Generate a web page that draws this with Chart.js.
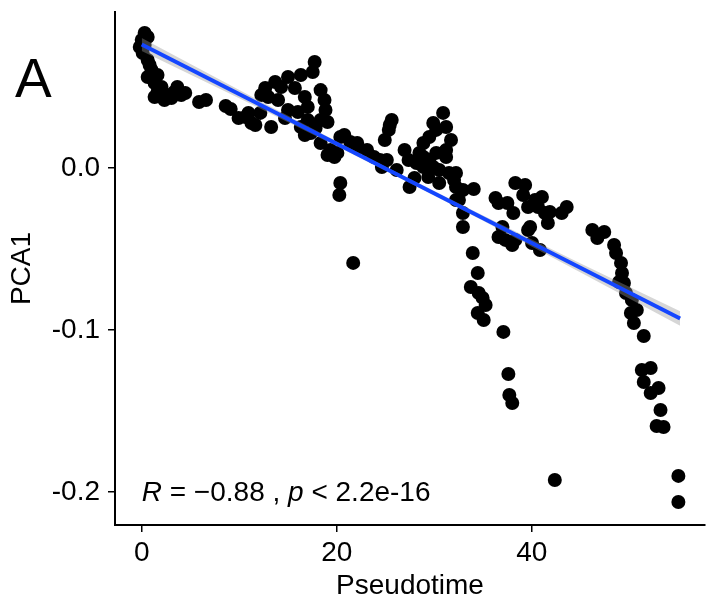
<!DOCTYPE html>
<html>
<head>
<meta charset="utf-8">
<script src="https://cdn.jsdelivr.net/npm/chart.js@4.4.1/dist/chart.umd.min.js"></script>
<style>
  html, body { margin: 0; padding: 0; background: #fff; }
  canvas { display: block; }
</style>
</head>
<body>
<canvas id="chart" width="712" height="603"></canvas>
<script>
// values
const pseudotime = [
  0.30, 0.61, 0.00, -0.20, 0.10, 0.61, 1.01, 0.61, 1.32, 1.62, 2.33, 2.63, 3.34, 4.05, 3.65, 2.03, 1.62, 0.81, 0.30, 1.32, 3.04, 4.46,
  5.88, 6.59, 8.61, 9.12, 9.93, 10.94, 11.65, 12.16, 13.27,
  17.73, 17.53, 16.31, 15.00, 13.68, 12.66, 12.97, 14.29, 15.70, 16.72, 17.02, 18.34, 18.74, 18.84, 18.34, 17.02, 16.31, 17.33,
  18.34, 19.35, 19.76, 20.36, 15.00, 14.69, 13.98, 12.26, 16.01, 17.83, 19.05, 20.77, 21.38, 22.09, 16.72, 11.25, 10.64,
  20.36, 20.26, 21.68,
  19.05, 20.06, 22.09, 23.10, 23.81, 25.63, 25.33, 24.92, 25.43, 24.62, 25.13, 24.42, 26.95, 27.36, 27.46, 26.14, 27.96,
  30.90, 31.21, 30.19, 29.48, 28.88, 28.47, 28.88, 29.48, 30.19, 31.21, 30.50, 31.51, 32.22, 32.22, 32.52, 32.93, 32.93,
  28.88, 29.89, 30.90, 32.02, 32.93, 32.22, 29.38, 30.50, 31.21, 29.89, 31.71, 28.17, 34.04,
  33.94, 34.45, 33.74, 34.55, 34.95, 35.26, 34.45, 35.06, 37.08, 37.59, 37.69, 37.99,
  36.27, 36.58, 37.49, 38.10, 38.30, 39.31, 39.11, 40.32, 41.03, 39.61, 40.63, 41.34, 41.64, 43.06, 43.57, 36.98, 37.28,
  38.30, 39.61, 40.02, 40.83, 39.82, 41.84, 37.99, 36.58, 42.35,
  46.20, 47.42, 46.71, 48.43, 48.63, 49.14, 49.24, 49.44, 49.65, 50.25, 50.76, 50.15, 50.46, 51.47, 51.27, 52.18, 51.47,
  52.18, 52.99, 53.19, 52.79, 53.50, 55.02, 55.02, 48.94
];
const pca1 = [
  0.0833, 0.0809, 0.0790, 0.0747, 0.0710, 0.0667, 0.0605, 0.0562, 0.0525, 0.0469, 0.0420, 0.0451, 0.0469, 0.0451, 0.0500, 0.0500, 0.0574, 0.0636, 0.0759, 0.0438, 0.0432, 0.0463,
  0.0407, 0.0420, 0.0383, 0.0364, 0.0309, 0.0340, 0.0265, 0.0340, 0.0253,
  0.0654, 0.0593, 0.0574, 0.0562, 0.0531, 0.0494, 0.0438, 0.0500, 0.0494, 0.0438, 0.0377, 0.0481, 0.0420, 0.0358, 0.0296, 0.0296, 0.0253, 0.0216,
  0.0154, 0.0111, 0.0068, 0.0191, 0.0358, 0.0309, 0.0420, 0.0451, 0.0346, 0.0247, 0.0284, 0.0204, 0.0160, 0.0123, 0.0204, 0.0278, 0.0315,
  -0.0093, -0.0167, -0.0586,
  0.0080, 0.0093, 0.0154, 0.0111, 0.0068, 0.0296, 0.0235, 0.0173, 0.0265, 0.0006, 0.0049, 0.0049, 0.0111, 0.0049, -0.0117, -0.0012, -0.0062,
  0.0340, 0.0253, 0.0235, 0.0191, 0.0154, 0.0093, 0.0006, 0.0049, 0.0093, 0.0111, -0.0012, -0.0031, -0.0031, -0.0117, -0.0198, -0.0278, -0.0364,
  0.0068, 0.0006, 0.0093, -0.0074, -0.0136, -0.0198, -0.0056, -0.0093, 0.0068, 0.0278, 0.0173, 0.0031, -0.0130,
  -0.0525, -0.0648, -0.0735, -0.0772, -0.0802, -0.0846, -0.0895, -0.0938, -0.1012, -0.1272, -0.1401, -0.1451,
  -0.0185, -0.0216, -0.0216, -0.0278, -0.0093, -0.0105, -0.0167, -0.0198, -0.0179, -0.0241, -0.0241, -0.0278, -0.0340, -0.0278, -0.0241, -0.0364, -0.0444,
  -0.0444, -0.0383, -0.0463, -0.0506, -0.0364, -0.0272, -0.0475, -0.0426, -0.1926,
  -0.0383, -0.0395, -0.0432, -0.0475, -0.0525, -0.0586, -0.0648, -0.0710, -0.0772, -0.0815, -0.0877, -0.0895, -0.0957, -0.1037, -0.1247, -0.1235, -0.1321,
  -0.1389, -0.1358, -0.1494, -0.1593, -0.1599, -0.1901, -0.2062, -0.0704
];

// linear fit and its confidence band
const fitX = [0, 55.2];
const fitY = [0.0762, -0.0929];
const bandX = [0, 10, 20, 27, 35, 45, 55.2];
const bandUpper = [0.0802, 0.0481, 0.0164, -0.0053, -0.0294, -0.0589, -0.0884];
const bandLower = [0.0722, 0.0431, 0.0134, -0.0077, -0.0326, -0.0645, -0.0974];

const xTicks = [0, 20, 40];
const yTicks = [-0.2, -0.1, 0.0];
const yTickLabels = ['-0.2', '-0.1', '0.0'];

const FONT = '"Liberation Sans", Arial, sans-serif';

const toXY = (xs, ys) => xs.map((x, i) => ({ x: x, y: ys[i] }));

const extraText = {
  id: 'extraText',
  afterDraw(chart) {
    const ctx = chart.ctx;
    const xs = chart.scales.x;
    const ys = chart.scales.y;
    ctx.save();
    ctx.fillStyle = '#000';
    ctx.textBaseline = 'alphabetic';
    ctx.textAlign = 'left';

    ctx.font = '55px ' + FONT;
    ctx.fillText('A', 15, 97);

    // R = -0.88 , p < 2.2e-16
    const parts = [
      ['R', true], [' = \u22120.88 , ', false], ['p', true], [' < 2.2e-16', false]
    ];
    let x = xs.getPixelForValue(0);
    const y = ys.getPixelForValue(-0.2) + 9;
    parts.forEach(([txt, italic]) => {
      ctx.font = (italic ? 'italic ' : '') + '28px ' + FONT;
      ctx.fillText(txt, x, y);
      x += ctx.measureText(txt).width;
    });
    ctx.restore();
  }
};

new Chart(document.getElementById('chart'), {
  type: 'scatter',
  data: {
    datasets: [
      {
        label: 'fit',
        type: 'line',
        data: toXY(fitX, fitY),
        borderColor: '#1446ff',
        borderWidth: 4,
        pointRadius: 0,
        fill: false,
        order: 1
      },
      {
        label: 'lower',
        type: 'line',
        data: toXY(bandX, bandLower),
        borderWidth: 0,
        borderColor: 'rgba(0,0,0,0)',
        pointRadius: 0,
        fill: false,
        order: 2
      },
      {
        label: 'upper',
        type: 'line',
        data: toXY(bandX, bandUpper),
        borderWidth: 0,
        borderColor: 'rgba(0,0,0,0)',
        backgroundColor: 'rgba(153,153,153,0.4)',
        pointRadius: 0,
        fill: '-1',
        order: 2
      },
      {
        label: 'cells',
        data: toXY(pseudotime, pca1),
        backgroundColor: '#000',
        borderWidth: 0,
        pointRadius: 7,
        order: 3
      }
    ]
  },
  options: {
    responsive: false,
    animation: false,
    devicePixelRatio: 1,
    layout: { padding: { top: 12, right: -6, left: 0, bottom: 0 } },
    plugins: {
      legend: { display: false },
      tooltip: { enabled: false }
    },
    scales: {
      x: {
        type: 'linear',
        min: -2.74,
        max: 57.75,
        afterFit(scale) {
          scale.height = 78;
          scale.paddingLeft = 0;
          scale.paddingRight = 0;
        },
        afterBuildTicks(scale) { scale.ticks = xTicks.map(v => ({ value: v })); },
        ticks: {
          color: '#000',
          font: { family: FONT, size: 28 },
          padding: 4,
          maxRotation: 0,
          callback: v => String(v)
        },
        grid: { drawOnChartArea: false, tickLength: 7, color: '#000', lineWidth: 1.5 },
        border: { display: true, color: '#000', width: 2 },
        title: {
          display: true,
          text: 'Pseudotime',
          color: '#000',
          font: { family: FONT, size: 28 },
          padding: { top: 0, bottom: 0 }
        }
      },
      y: {
        type: 'linear',
        min: -0.2204,
        max: 0.0963,
        afterFit(scale) {
          scale.width = 115;
          scale.paddingTop = 0;
          scale.paddingBottom = 0;
        },
        afterBuildTicks(scale) { scale.ticks = yTicks.map(v => ({ value: v })); },
        ticks: {
          color: '#000',
          font: { family: FONT, size: 28 },
          padding: 8,
          callback: (v) => yTickLabels[yTicks.findIndex(t => Math.abs(t - v) < 1e-9)]
        },
        grid: { drawOnChartArea: false, tickLength: 7, color: '#000', lineWidth: 1.5 },
        border: { display: true, color: '#000', width: 2 },
        title: {
          display: true,
          text: 'PCA1',
          color: '#000',
          font: { family: FONT, size: 28 },
          padding: { top: 5, bottom: 0 }
        }
      }
    }
  },
  plugins: [extraText]
});
</script>
</body>
</html>
